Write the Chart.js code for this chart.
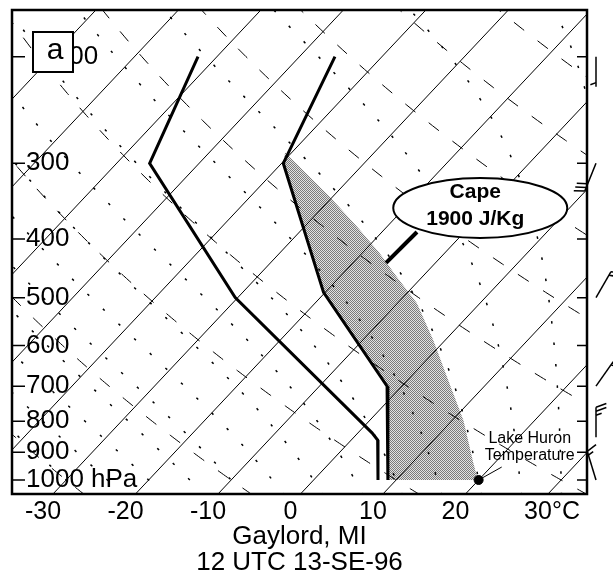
<!DOCTYPE html>
<html><head><meta charset="utf-8">
<script src="https://cdn.jsdelivr.net/npm/chart.js@4/dist/chart.umd.min.js"></script>
<style>html,body{margin:0;padding:0;background:#fff}</style>
</head><body>
<canvas id="c" width="613" height="578"></canvas>
<script>
const FONT = '"Liberation Sans", Arial, Helvetica, sans-serif';

// ---- tick labels ----
const tempTicks = [-30, -20, -10, 0, 10, 20, 30];
const pressureTicks = [200, 300, 400, 500, 600, 700, 800, 900, 1000];

// ---- observed sounding (hPa, °C) ----
const tempP = [200, 300, 490, 700, 1000];
const tempT = [-45.7, -39.8, -20.2, -1.8, 9.0];
const dewP = [200, 300, 500, 836, 859, 1000];
const dewT = [-62.3, -56.0, -30.3, 1.7, 3.2, 7.8];

// ---- lifted parcel from lake temperature (right edge of CAPE area) ----
const parcelP = [1000, 937, 796, 697, 587, 510, 462, 422, 382, 341, 288];
const parcelT = [19.9, 17.4, 11.3, 5.7, -1.5, -7.7, -13.1, -17.9, -23.6, -30.3, -40.8];

// ---- Lake Huron temperature ----
const lakeP = [1000];
const lakeT = [20];

// ---- winds ----
const windP = [200, 300, 500, 700, 850, 1000];
const windDir = [180, 202, 30, 35, 0, 343];
const windSpd = [5, 30, 15, 15, 25, 15];

// ---- diagram background families ----
const isotherms = [-90, -80, -70, -60, -50, -40, -30, -20, -10, 0, 10, 20, 30];
const dryAdiabats = [-30, -10, 10, 30, 50, 70, 90, 110, 130];      // theta, °C
const moistAdiabats = [-30, -25, -20, -15, -10, -5, 0, 5, 10, 15, 20, 25, 30, 35, 40, 45]; // T at 1000 hPa

const capeText = ['Cape', '1900 J/Kg'];
const lakeText = ['Lake Huron', 'Temperature'];

// skew-T transform
const SKEW = 30, P0 = 1098;
const skewX = (t, p) => t + SKEW * Math.log(P0 / p);
const toXY = (P, T) => P.map((p, i) => ({x: skewX(T[i], p), y: p}));

function moistProfile(t0, levels) {
  const dTdp = (p, T) => {
    const tc = T - 273.15;
    const es = 6.112 * Math.exp(17.67 * tc / (tc + 243.5));
    const rs = 0.622 * es / (p - es);
    return (287.04 * T + 2.501e6 * rs) / (p * (1005.7 + 2.501e6 * 2.501e6 * rs * 0.622 / (287.04 * T * T)));
  };
  const res = {};
  const run = (h) => {
    let p = 1000, T = t0 + 273.15; res[1000] = T;
    while ((h < 0 && p > 160) || (h > 0 && p < 1060)) {
      const k1 = dTdp(p, T), k2 = dTdp(p + h / 2, T + h / 2 * k1),
            k3 = dTdp(p + h / 2, T + h / 2 * k2), k4 = dTdp(p + h, T + h * k3);
      T += h / 6 * (k1 + 2 * k2 + 2 * k3 + k4); p += h; res[p] = T;
    }
  };
  run(-5); run(5);
  return levels.map(p => ({x: skewX(res[p] - 273.15, p), y: p}));
}

// shading pattern
const pc = document.createElement('canvas'); pc.width = 2; pc.height = 2;
const pctx = pc.getContext('2d');
pctx.fillStyle = '#e2e2e2'; pctx.fillRect(0, 0, 2, 2);
pctx.fillStyle = '#7a7a7a'; pctx.fillRect(0, 0, 1, 1); pctx.fillRect(1, 1, 1, 1);
const shade = pctx.createPattern(pc, 'repeat');

const capeData = toXY(parcelP, parcelT).concat(toXY(tempP, tempT).filter(d => d.y >= 300));

const gridPlugin = {
  id: 'skewGrid',
  beforeDatasetsDraw(chart) {
    const {ctx, chartArea: a, scales: {x, y}} = chart;
    ctx.save();
    ctx.beginPath(); ctx.rect(a.left, a.top, a.right - a.left, a.bottom - a.top); ctx.clip();
    ctx.strokeStyle = '#000';
    const line = (pts) => {
      ctx.beginPath();
      pts.forEach((q, i) => {
        const px = x.getPixelForValue(q.x), py = y.getPixelForValue(q.y);
        i ? ctx.lineTo(px, py) : ctx.moveTo(px, py);
      });
      ctx.stroke();
    };
    const pTop = y.min, pBot = y.max;
    ctx.lineWidth = 1; ctx.setLineDash([]);
    isotherms.forEach(t => line([{x: skewX(t, pBot), y: pBot}, {x: skewX(t, pTop), y: pTop}]));
    const levels = []; for (let p = 1060; p >= 160; p -= 5) levels.push(p);
    ctx.setLineDash([13, 17]); ctx.lineWidth = 1;
    dryAdiabats.forEach(th => {
      const K = th + 273.15;
      line(levels.map(p => ({x: skewX(K * Math.pow(p / 1000, 0.2857) - 273.15, p), y: p})));
    });
    ctx.setLineDash([2.5, 19]); ctx.lineWidth = 1.5;
    moistAdiabats.forEach(t0 => line(moistProfile(t0, levels)));
    ctx.restore();
  }
};

function drawBarb(ctx, bx, by, dir, spd) {
  const a = dir * Math.PI / 180;
  const ux = Math.sin(a), uy = -Math.cos(a);
  const L = 30;
  const tx = bx + ux * L, ty = by + uy * L;
  ctx.beginPath(); ctx.moveTo(bx, by); ctx.lineTo(tx, ty); ctx.stroke();
  const px = -uy, py = ux;
  const fx = px * 0.94 + ux * 0.34, fy = py * 0.94 + uy * 0.34;
  let n = Math.floor(spd / 10), half = (spd % 10) >= 5;
  let i = 0;
  for (; i < n; i++) {
    const sx = tx - ux * i * 4, sy = ty - uy * i * 4;
    ctx.beginPath(); ctx.moveTo(sx, sy); ctx.lineTo(sx + fx * 11, sy + fy * 11); ctx.stroke();
  }
  if (half) {
    const k = n === 0 ? 1 : i;
    const sx = tx - ux * k * 4, sy = ty - uy * k * 4;
    ctx.beginPath(); ctx.moveTo(sx, sy); ctx.lineTo(sx + fx * 6, sy + fy * 6); ctx.stroke();
  }
}

const annoPlugin = {
  id: 'annotations',
  afterDraw(chart) {
    const {ctx, chartArea: a, scales: {x, y}} = chart;
    const X = (t, p) => x.getPixelForValue(skewX(t, p));
    const Y = p => y.getPixelForValue(p);
    ctx.save();
    ctx.strokeStyle = '#000'; ctx.fillStyle = '#000'; ctx.setLineDash([]);
    // inward tick marks
    ctx.lineWidth = 1.5;
    pressureTicks.forEach(p => {
      const py = Y(p);
      ctx.beginPath();
      ctx.moveTo(a.left, py); ctx.lineTo(a.left + 13, py);
      ctx.moveTo(a.right - 10, py); ctx.lineTo(a.right, py);
      ctx.stroke();
    });
    // frame
    ctx.lineWidth = 2.5;
    ctx.strokeRect(a.left, a.top, a.right - a.left, a.bottom - a.top);
    // °C unit after last x label
    ctx.font = '25px ' + FONT; ctx.textBaseline = 'middle'; ctx.textAlign = 'left';
    const last = tempTicks[tempTicks.length - 1];
    ctx.fillText('°C', x.getPixelForValue(last) + ctx.measureText(String(last)).width / 2, a.bottom + 18);
    // panel letter
    ctx.fillStyle = '#fff'; ctx.fillRect(a.left + 21, a.top + 22, 40, 40);
    ctx.lineWidth = 2; ctx.strokeRect(a.left + 21, a.top + 22, 40, 40);
    ctx.fillStyle = '#000'; ctx.font = '30px ' + FONT; ctx.textAlign = 'center';
    ctx.fillText('a', a.left + 43, a.top + 41);
    // CAPE pointer and ellipse
    ctx.lineWidth = 4;
    ctx.beginPath();
    ctx.moveTo(x.getPixelForValue(11.58), Y(438)); ctx.lineTo(x.getPixelForValue(15.33), Y(389.5));
    ctx.stroke();
    const ex = x.getPixelForValue(23.0), ey = Y(355.5);
    ctx.beginPath(); ctx.ellipse(ex, ey, 87, 30, 0, 0, Math.PI * 2);
    ctx.fillStyle = '#fff'; ctx.fill(); ctx.lineWidth = 2; ctx.stroke();
    ctx.fillStyle = '#000'; ctx.font = 'bold 21px ' + FONT; ctx.textAlign = 'center'; ctx.textBaseline = 'alphabetic';
    ctx.fillText(capeText[0], ex - 5, ey - 10);
    ctx.fillText(capeText[1], ex - 5, ey + 17);
    // Lake Huron label
    ctx.lineWidth = 1;
    ctx.beginPath(); ctx.moveTo(X(lakeT[0], lakeP[0]), Y(lakeP[0]));
    ctx.lineTo(x.getPixelForValue(25.6), Y(952)); ctx.stroke();
    ctx.font = '16px ' + FONT;
    const lx = x.getPixelForValue(29.0), ly = Y(869);
    ctx.fillText(lakeText[0], lx, ly);
    ctx.fillText(lakeText[1], lx, ly + 17);
    // wind barbs
    ctx.lineWidth = 1.5;
    windP.forEach((p, i) => drawBarb(ctx, a.right + 9, Y(p), windDir[i], windSpd[i]));
    ctx.restore();
  }
};

Chart.defaults.font.family = FONT;
Chart.defaults.color = '#000';

new Chart(document.getElementById('c'), {
  type: 'scatter',
  data: {
    datasets: [
      {label: 'CAPE', data: capeData, showLine: true, fill: 'shape', backgroundColor: shade,
       borderWidth: 0, borderColor: 'rgba(0,0,0,0)', pointRadius: 0, tension: 0},
      {label: 'Temperature', data: toXY(tempP, tempT), showLine: true, borderColor: '#000',
       borderWidth: 3, pointRadius: 0, fill: false, tension: 0},
      {label: 'Dewpoint', data: toXY(dewP, dewT), showLine: true, borderColor: '#000',
       borderWidth: 3, pointRadius: 0, fill: false, tension: 0},
      {label: 'Lake Huron', data: toXY(lakeP, lakeT), showLine: false, pointRadius: 4.5,
       pointBackgroundColor: '#000', pointBorderColor: '#000'}
    ]
  },
  options: {
    responsive: false, animation: false, devicePixelRatio: 1,
    layout: {padding: {left: 12, right: 26, top: 10, bottom: 0}},
    plugins: {
      legend: {display: false}, tooltip: {enabled: false},
      filler: {drawTime: 'beforeDatasetsDraw'},
      title: {display: true, position: 'bottom', text: ['Gaylord, MI', '12 UTC 13-SE-96'],
              color: '#000', font: {size: 26, weight: 'normal', lineHeight: 1},
              padding: {top: -4, bottom: 2}}
    },
    scales: {
      x: {
        type: 'linear', position: 'bottom', min: -33.76, max: 35.94,
        grid: {display: false, drawTicks: false}, border: {display: false},
        afterBuildTicks: s => { s.ticks = tempTicks.map(v => ({value: v})); },
        afterFit: s => { s.height = 34; s.paddingLeft = 0; s.paddingRight = 0; },
        ticks: {font: {size: 25}, color: '#000', padding: 3, maxRotation: 0, autoSkip: false,
                callback: v => String(v)}
      },
      y: {
        type: 'logarithmic', position: 'left', reverse: true, min: 167.5, max: 1054.7, z: 1,
        grid: {display: false}, border: {display: false},
        afterBuildTicks: s => { s.ticks = pressureTicks.map(v => ({value: v})); },
        afterFit: s => { s.width = 0; s.paddingTop = 0; s.paddingBottom = 0; },
        ticks: {mirror: true, padding: 14, font: {size: 26, lineHeight: 0.85}, color: '#000',
                autoSkip: false, showLabelBackdrop: true, backdropColor: '#fff',
                backdropPadding: 1,
                callback: v => v === 1000 ? '1000 hPa' : (v === 200 ? '    200' : String(v))}
      }
    }
  },
  plugins: [gridPlugin, annoPlugin]
});
</script>
</body></html>
